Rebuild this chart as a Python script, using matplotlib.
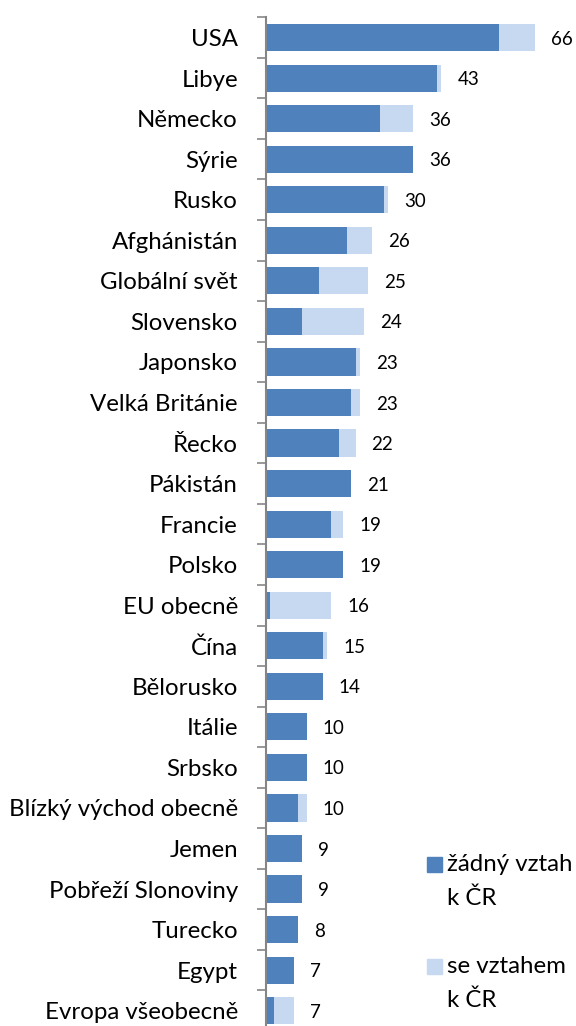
import matplotlib.pyplot as plt
from matplotlib.patches import Rectangle

# data
zeme = ['USA', 'Libye', 'Německo', 'Sýrie', 'Rusko', 'Afghánistán', 'Globální svět',
        'Slovensko', 'Japonsko', 'Velká Británie', 'Řecko', 'Pákistán', 'Francie',
        'Polsko', 'EU obecně', 'Čína', 'Bělorusko', 'Itálie', 'Srbsko',
        'Blízký východ obecně', 'Jemen', 'Pobřeží Slonoviny', 'Turecko', 'Egypt',
        'Evropa všeobecně']
bez_vztahu = [57, 42, 28, 36, 29, 20, 13, 9, 22, 21, 18, 21, 16, 19, 1, 14, 14, 10, 10, 8, 9, 9, 8, 7, 2]
celkem = [66, 43, 36, 36, 30, 26, 25, 24, 23, 23, 22, 21, 19, 19, 16, 15, 14, 10, 10, 10, 9, 9, 8, 7, 7]
se_vztahem = [c - b for c, b in zip(celkem, bez_vztahu)]

TMAVA = '#4F81BD'
SVETLA = '#C6D9F1'
SEDA = '#868686'

plt.rcParams['font.family'] = ['Lato', 'DejaVu Sans']

W, H = 576, 1026
fig = plt.figure(figsize=(W / 100, H / 100), dpi=100)
ax = fig.add_axes([265.7 / W, -5 / H, 286 / W, (H - 17.3 + 5) / H])

y = range(len(zeme))
ax.barh(y, bez_vztahu, height=0.67, color=TMAVA)
pruhy = ax.barh(y, se_vztahem, left=bez_vztahu, height=0.67, color=SVETLA)
popisky = ax.bar_label(pruhy, labels=[str(c) for c in celkem], padding=11.5, fontsize=13.5)
for t in popisky:
    t.set_va('center_baseline')

ax.set_xlim(0, 70)
ax.set_ylim(len(zeme) - 0.5, -0.5)
ax.set_yticks(list(y))
ax.set_yticklabels(zeme, fontsize=17.3)
ax.set_yticks([i - 0.5 for i in range(len(zeme) + 1)], minor=True)
ax.tick_params(axis='y', which='major', length=0, pad=20)
ax.tick_params(axis='y', which='minor', length=6.5, width=1.2, color=SEDA, direction='out')
ax.set_xticks([])
for s in ['top', 'right', 'bottom']:
    ax.spines[s].set_visible(False)
ax.spines['left'].set_color(SEDA)
ax.spines['left'].set_linewidth(1.5)

# legenda
def px(x, yy):
    return x / W, 1 - yy / H

for barva, radky, top in [(TMAVA, ['žádný vztah', 'k ČR'], 857),
                          (SVETLA, ['se vztahem', 'k ČR'], 959)]:
    fig.patches.append(Rectangle(px(427, top + 15), 15 / W, 15 / H, color=barva,
                                 transform=fig.transFigure, figure=fig))
    for i, r in enumerate(radky):
        fig.text(*px(447, top + 14 + i * 34), r, fontsize=17.3, va='baseline', ha='left')

fig.savefig('out.png', dpi=100)
